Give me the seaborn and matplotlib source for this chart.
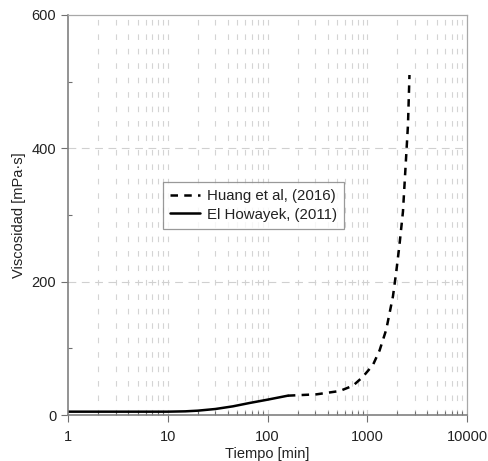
import numpy as np
import pandas as pd
import matplotlib
matplotlib.use("Agg")
import matplotlib.pyplot as plt
import seaborn as sns
from matplotlib.ticker import LogLocator, FixedLocator, NullFormatter

# Huang et al. (2016) - dashed
huang_t = [160, 310, 530, 720, 900, 1140, 1330, 1550, 1810, 1950, 2100, 2280, 2560, 2650]
huang_v = [29, 31, 36, 44, 57, 75, 97, 128, 178, 214, 254, 305, 435, 510]

# El Howayek (2011) - solid
howa_t = [1, 3, 10, 15, 20, 30, 45, 66, 100, 160]
howa_v = [5, 5, 5, 5.5, 6.5, 9, 13, 18, 23, 29]

x_ticks = [1, 10, 100, 1000, 10000]
y_ticks = [0, 200, 400, 600]

sns.set_theme(style="white")
plt.rcParams['font.family'] = ['Liberation Sans', 'DejaVu Sans']

fig = plt.figure(figsize=(4.88, 4.61), dpi=100)
ax = fig.add_axes([68 / 488, 1 - 415 / 461, (467 - 68) / 488, (415 - 15) / 461])

df_h = pd.DataFrame({"t": huang_t, "v": huang_v})
df_e = pd.DataFrame({"t": howa_t, "v": howa_v})
sns.lineplot(data=df_h, x="t", y="v", ax=ax, color="black", linewidth=1.8,
             linestyle=(0, (3, 2.5)), label="Huang et al, (2016)")
sns.lineplot(data=df_e, x="t", y="v", ax=ax, color="black", linewidth=1.8,
             label="El Howayek, (2011)")

ax.set_xscale("log")
ax.set_xlim(1, 10000)
ax.set_ylim(0, 600)
ax.xaxis.set_major_locator(FixedLocator(x_ticks))
ax.set_xticklabels([str(t) for t in x_ticks])
ax.xaxis.set_minor_locator(LogLocator(base=10, subs=np.arange(2, 10), numticks=20))
ax.xaxis.set_minor_formatter(NullFormatter())
ax.yaxis.set_major_locator(FixedLocator(y_ticks))
ax.yaxis.set_minor_locator(FixedLocator([100, 300, 500]))

# grid lines
for dec in [1, 10, 100, 1000]:
    for m in range(2, 11):
        ax.axvline(dec * m, color="#d4d4d4", linewidth=0.8, linestyle=(0, (5, 8)), zorder=0)
for yv in [200, 400]:
    ax.axhline(yv, color="#d0d0d0", linewidth=0.8, linestyle=(0, (7, 5)), zorder=0)

ax.tick_params(axis="both", which="major", direction="out", length=5, width=0.8,
               color="#707070", labelsize=10.5, labelcolor="#222222", bottom=True, left=True)
ax.tick_params(axis="both", which="minor", direction="in", length=3, width=0.8,
               color="#707070", bottom=True, left=True)
ax.tick_params(axis="x", which="major", pad=6)

for s in ["left", "bottom"]:
    ax.spines[s].set_color("#808080")
    ax.spines[s].set_linewidth(1.2)
for s in ["top", "right"]:
    ax.spines[s].set_color("#a8a8a8")
    ax.spines[s].set_linewidth(0.9)

ax.set_xlabel("Tiempo [min]", fontsize=10.5, color="#222222", labelpad=2)
ax.set_ylabel("Viscosidad [mPa·s]", fontsize=10.5, color="#222222", labelpad=4)

leg = ax.legend(loc="center", bbox_to_anchor=((253.5 - 68) / 399, (415 - 205.5) / 400),
                fontsize=10.8, frameon=True, fancybox=False, handlelength=2.0,
                handletextpad=0.45, borderpad=0.5, labelspacing=0.3)
leg.get_frame().set_edgecolor("#808080")
leg.get_frame().set_linewidth(0.9)
for t in leg.get_texts():
    t.set_color("#222222")

plt.savefig("out.png", dpi=100)
